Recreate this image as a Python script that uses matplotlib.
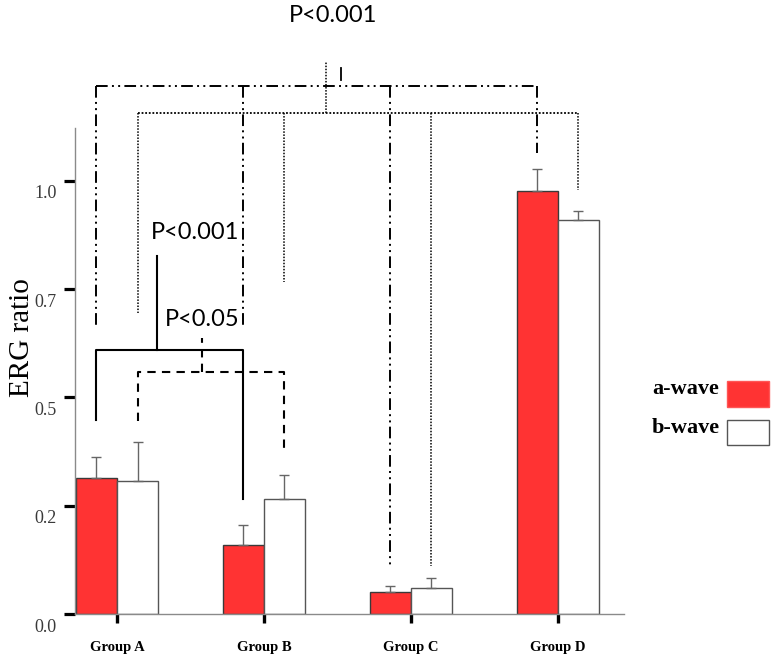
import numpy as np
import matplotlib.pyplot as plt
from matplotlib.transforms import ScaledTranslation
from matplotlib.patches import Rectangle

# data
groups = ['Group A', 'Group B', 'Group C', 'Group D']
a_wave = [0.315, 0.159, 0.050, 0.977]
a_err = [0.048, 0.047, 0.015, 0.051]
b_wave = [0.307, 0.265, 0.059, 0.911]
b_err = [0.091, 0.055, 0.023, 0.020]
ytick_pos = [0.0, 0.25, 0.5, 0.75, 1.0]
ytick_lab = ['0.0', '0.2', '0.5', '0.7', '1.0']

serif = 'Liberation Serif'
sans = 'Lato'

fig = plt.figure(figsize=(7.72, 6.57), dpi=100)
ax = fig.add_axes([75/772, 43/657, 697/772, 614/657])

x = np.arange(len(groups))
w = 0.279
xa = x - w/2
xb = x + w/2

ax.bar(xa, a_wave, w, color='#FF3333', edgecolor='#3a3a3a', lw=1, zorder=2)
ax.bar(xb, b_wave, w, color='white', edgecolor='#555555', lw=1, zorder=2)
z = np.zeros(len(groups))
ax.errorbar(xa, a_wave, yerr=[z, a_err], fmt='none', ecolor='#666666',
            elinewidth=1, capsize=3.5, capthick=1, zorder=3)
ax.errorbar(xb, b_wave, yerr=[z, b_err], fmt='none', ecolor='#666666',
            elinewidth=1, capsize=3.5, capthick=1, zorder=3)

ax.set_xlim(-0.2857, 4.456)
ax.set_ylim(0, 1.418)

for s in ['top', 'right']:
    ax.spines[s].set_visible(False)
ax.spines['left'].set_bounds(0, 1.122)
ax.spines['bottom'].set_bounds(-0.2857, 3.446)
for s in ['left', 'bottom']:
    ax.spines[s].set_color('#8a8a8a')
    ax.spines[s].set_linewidth(1)

ax.set_yticks(ytick_pos)
ax.set_yticklabels(ytick_lab, fontfamily=serif, fontsize=13, color='#3a3a3a')
ax.tick_params(axis='y', length=8, width=2.3, color='black', pad=5)
off = ScaledTranslation(0, -0.11, fig.dpi_scale_trans)
for lab in ax.get_yticklabels():
    lab.set_transform(lab.get_transform() + off)

ax.set_xticks(x)
ax.set_xticklabels(groups, fontfamily=serif, fontweight='bold', fontsize=10.5)
ax.tick_params(axis='x', length=6.5, width=2.4, color='black', pad=13)

fig.text(22/772, 1 - 338/657, 'ERG ratio', rotation=90, ha='center', va='center',
         fontfamily=serif, fontsize=21)

# significance brackets
dashdot = (0, (6, 2.2, 1, 2.2, 1, 2.2))
lw_b = 1.4

# a-wave across all groups (dash-dot)
top_a = 1.219
ends_a = [0.661, 0.661, 0.111, 1.065]
ax.plot([xa[0], xa[-1]], [top_a, top_a], color='black', lw=lw_b, ls=dashdot)
for xi, ye in zip(xa, ends_a):
    ax.plot([xi, xi], [top_a, ye], color='black', lw=lw_b, ls=dashdot)
ax.plot([1.524, 1.524], [1.233, 1.261], color='black', lw=1.3)

# b-wave across all groups (dotted)
top_b = 1.157
ends_b = [0.695, 0.767, 0.111, 0.979]
dot = (0, (1, 1))
ax.plot([xb[0], xb[-1]], [top_b, top_b], color='black', lw=1.3, ls=dot)
for xi, ye in zip(xb, ends_b):
    ax.plot([xi, xi], [top_b, ye], color='black', lw=1.1, ls=dot)
ax.plot([1.422, 1.422], [top_b, 1.275], color='black', lw=1.1, ls=dot)

ax.text(1.469, 1.383, 'P<0.001', ha='center', va='center', fontfamily=sans, fontsize=17)

# A vs B a-wave (solid)
ys = 0.610
ax.plot([xa[0], xa[0], xa[1], xa[1]], [0.448, ys, ys, 0.266], color='black', lw=1.5)
ax.plot([0.272, 0.272], [ys, 0.827], color='black', lw=1.5)
ax.text(0.53, 0.882, 'P<0.001', ha='center', va='center', fontfamily=sans, fontsize=17)

# A vs B b-wave (dashed)
yd = 0.559
ax.plot([xb[0], xb[0], xb[1], xb[1]], [0.446, yd, yd, 0.372], color='black',
        lw=1.5, ls=(0, (4, 3)))
ax.plot([0.578, 0.578], [yd, 0.637], color='black', lw=1.5, ls=(0, (4, 3)))
ax.text(0.578, 0.681, 'P<0.05', ha='center', va='center', fontfamily=sans, fontsize=17)

# legend
fig.patches.append(Rectangle((727/772, 1 - 407/657), 42/772, 26/657,
                             transform=fig.transFigure, facecolor='#FF3333',
                             edgecolor='#FF5555', lw=1))
fig.patches.append(Rectangle((727/772, 1 - 445/657), 42/772, 25/657,
                             transform=fig.transFigure, facecolor='white',
                             edgecolor='#555555', lw=1))
fig.text(652/772, 1 - 389/657, 'a-wave', ha='left', va='center', fontfamily=serif,
         fontweight='bold', fontsize=16)
fig.text(652/772, 1 - 428/657, 'b-wave', ha='left', va='center', fontfamily=serif,
         fontweight='bold', fontsize=16)

fig.savefig('out.png', dpi=100)
